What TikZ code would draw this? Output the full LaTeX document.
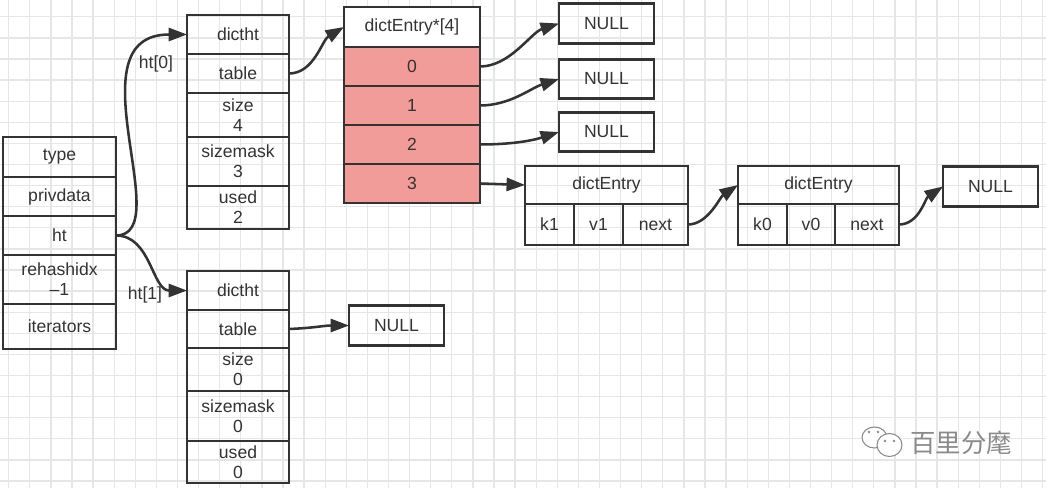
\documentclass[tikz,border=0pt]{standalone}
\usepackage{fontspec}
\setmainfont{Liberation Sans}
\newfontfamily\cjk{Noto Sans CJK SC}
\usetikzlibrary{arrows.meta, positioning}
\definecolor{ink}{HTML}{333333}
\definecolor{bucket}{HTML}{F19C99}
\definecolor{gridline}{HTML}{E6E6E6}
\definecolor{wmgray}{HTML}{8A8A8A}

\begin{document}
\begin{tikzpicture}[
    x=0.02cm, y=-0.02cm,
    node distance=0pt,
    every node/.style={font=\fontsize{10}{11.3}\selectfont, text=ink},
    cell/.style={draw=ink, line width=1.6pt, inner sep=0pt, outer sep=0pt, align=center},
    sbox/.style={cell, minimum width=2.26cm},
    tbox/.style={cell, minimum width=2.04cm},
    abox/.style={cell, minimum width=2.72cm, minimum height=0.78cm, fill=bucket},
    nullbox/.style={cell, minimum width=1.9cm, minimum height=0.79cm},
    ptr/.style={-{Triangle[length=10.5pt, width=7.5pt]}, line width=1.45pt, draw=ink}
]
    \useasboundingbox (0,0) rectangle (1046,488);
    % background grid
    \fill[white] (0,0) rectangle (1046,488);
    \foreach \k in {0,...,49} \draw[gridline, line width=0.7pt] (8.7+21.1*\k,0) -- (8.7+21.1*\k,488);
    \foreach \k in {0,...,22} \draw[gridline, line width=0.7pt] (0,16.8+21.1*\k) -- (1046,16.8+21.1*\k);

    % dict
    \node (typ) [sbox, minimum height=0.8cm] at (59.5,157) {type};
    \node (priv) [sbox, minimum height=0.78cm, below=of typ] {privdata};
    \node (ht) [sbox, minimum height=0.78cm, below=of priv] {ht};
    \node (rehash) [sbox, minimum height=0.98cm, below=of ht] {rehashidx\\–1};
    \node (iter) [sbox, minimum height=0.9cm, below=of rehash] {iterators};

    % ht[0]
    \node (t0name) [tbox, minimum height=0.78cm] at (238,34.5) {dictht};
    \node (t0tab) [tbox, minimum height=0.78cm, below=of t0name] {table};
    \node (t0size) [tbox, minimum height=0.88cm, below=of t0tab] {size\\4};
    \node (t0mask) [tbox, minimum height=0.98cm, below=of t0size] {sizemask\\3};
    \node (t0used) [tbox, minimum height=0.86cm, below=of t0mask] {used\\2};

    % ht[1]
    \node (t1name) [tbox, minimum height=0.78cm] at (238,290.5) {dictht};
    \node (t1tab) [tbox, minimum height=0.76cm, below=of t1name] {table};
    \node (t1size) [tbox, minimum height=0.86cm, below=of t1tab] {size\\0};
    \node (t1mask) [tbox, minimum height=1.0cm, below=of t1size] {sizemask\\0};
    \node (t1used) [tbox, minimum height=0.84cm, below=of t1mask] {used\\0};

    \node (lbl0) at (156,64) {ht[0]};
    \node (lbl1) at (145,295) {ht[1]};

    % buckets
    \node (arr) [cell, minimum width=2.72cm, minimum height=0.8cm, fill=white] at (412,27) {dictEntry*[4]};
    \node (b0) [abox, below=of arr] {0};
    \foreach \i [count=\p from 0] in {1,2,3} \node (b\i) [abox, below=of b\p] {\i};

    \node (n0) [nullbox] at (606.5,23.5) {NULL};
    \node (n1) [nullbox] at (606.5,79) {NULL};
    \node (n2) [nullbox] at (606.5,132) {NULL};
    \node (nt1) [nullbox] at (396.5,325.5) {NULL};
    \node (nend) [nullbox] at (990.5,186.5) {NULL};

    % entries
    \node (e1) [cell, minimum width=3.26cm, minimum height=0.76cm] at (606.5,185) {dictEntry};
    \node (e1k) [cell, minimum width=0.98cm, minimum height=0.82cm, anchor=north west] at (e1.south west) {k1};
    \node (e1v) [cell, minimum width=0.98cm, minimum height=0.82cm, right=of e1k] {v1};
    \node (e1next) [cell, minimum width=1.3cm, minimum height=0.82cm, right=of e1v] {next};

    \node (e2) [cell, minimum width=3.22cm, minimum height=0.76cm] at (818.5,185) {dictEntry};
    \node (e2k) [cell, minimum width=0.98cm, minimum height=0.82cm, anchor=north west] at (e2.south west) {k0};
    \node (e2v) [cell, minimum width=0.96cm, minimum height=0.82cm, right=of e2k] {v0};
    \node (e2next) [cell, minimum width=1.28cm, minimum height=0.82cm, right=of e2v] {next};

    \draw [ptr] (ht.east) .. controls +(62,0) and +(-117,0) .. (t0name.west);
    \draw [ptr] (ht.east) .. controls +(35,0) and +(-35,0) .. (t1name.west);
    \draw [ptr] (t0tab.east) .. controls +(25,0) and +(-22,13) .. (arr.west);
    \foreach \i in {0,1,2} \draw [ptr] (b\i.east) .. controls +(30,0) and +(-28,9) .. (n\i.west);
    \draw [ptr] (b3.east) -- (e1.west);
    \draw [ptr] (e1next.east) .. controls +(20,0) and +(-18,12) .. (e2.west);
    \draw [ptr] (e2next.east) .. controls +(20,0) and +(-18,12) .. (nend.west);
    \draw [ptr] (t1tab.east) .. controls +(25,-1) and +(-25,0) .. (nt1.west);

    % watermark
    \draw [wmgray, line width=0.6pt, fill=white] (874.5,437.5) ellipse [x radius=0.25cm, y radius=0.21cm];
    \draw [wmgray, line width=0.6pt, fill=white] (889.5,445) ellipse [x radius=0.25cm, y radius=0.23cm];
    \foreach \ex/\ey in {869/432, 878/432, 885/441, 894/441} \fill [wmgray] (\ex,\ey) circle [radius=0.8pt];
    \node (wm) [font=\cjk\fontsize{14.5}{16}\selectfont, text=wmgray] at (961,443) {百里分麾};
\end{tikzpicture}
\end{document}
